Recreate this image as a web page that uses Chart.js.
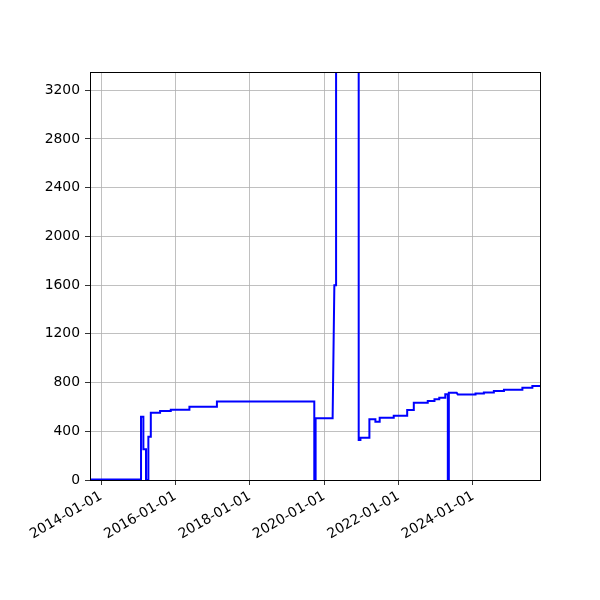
<!DOCTYPE html>
<html>
<head>
<meta charset="utf-8">
<script src="https://cdn.jsdelivr.net/npm/chart.js@4/dist/chart.umd.min.js"></script>
<style>
  html, body { margin: 0; padding: 0; background: #ffffff; }
  canvas { display: block; }
</style>
</head>
<body>
<canvas id="c" width="600" height="600"></canvas>
<script>
// ---- data ----
const dates = [
  '2013-09-15','2015-01-29','2015-01-29','2015-02-21','2015-02-21','2015-03-19',
  '2015-03-19','2015-04-11','2015-04-11','2015-05-05','2015-05-05','2015-08-04',
  '2015-08-04','2015-11-17','2015-11-17','2016-05-18','2016-05-18','2017-02-12',
  '2017-02-12','2019-09-26','2019-09-26','2019-10-09','2019-10-09','2020-03-24',
  '2020-04-10','2020-04-27','2020-04-27','2020-12-05','2020-12-05','2020-12-22',
  '2020-12-22','2021-03-20','2021-03-20','2021-05-18','2021-05-18','2021-06-29',
  '2021-06-29','2021-11-14','2021-11-14','2022-03-26','2022-03-26','2022-05-30',
  '2022-05-30','2022-10-14','2022-10-14','2022-12-19','2022-12-19','2023-02-04',
  '2023-02-04','2023-04-04','2023-04-04','2023-04-29','2023-04-29','2023-05-09',
  '2023-05-09','2023-07-25','2023-08-05','2024-01-26','2024-01-26','2024-04-17',
  '2024-04-17','2024-07-24','2024-07-24','2024-10-31','2024-10-31','2025-04-30',
  '2025-04-30','2025-08-06','2025-08-06','2025-10-20'
];
const values = [
  5,5,519,519,252,252,
  0,0,355,355,552,552,
  566,566,577,577,601,601,
  645,645,5,5,506,506,
  1600,1600,4000,4000,328,328,
  347,347,498,498,478,478,
  511,511,527,527,574,574,
  634,634,648,648,664,664,
  676,676,705,705,0,0,
  716,716,703,703,711,711,
  719,719,730,730,741,741,
  757,757,771,771
];
const xTickLabels = ['2014-01-01','2016-01-01','2018-01-01','2020-01-01','2022-01-01','2024-01-01'];
const yTickValues = [0, 400, 800, 1200, 1600, 2000, 2400, 2800, 3200];
const xMinDate = '2013-09-15';
const xMaxDate = '2025-10-20';
const yMin = 0;
const yMax = 3350;

const toMs = d => Date.parse(d + 'T00:00:00Z');
const points = dates.map((d, i) => ({ x: toMs(d), y: values[i] }));
const xTickValues = xTickLabels.map(toMs);

const frame = {
  id: 'frame',
  afterDatasetsDraw(chart) {
    const { ctx, chartArea: a } = chart;
    ctx.save();
    ctx.strokeStyle = '#000000';
    ctx.lineWidth = 1;
    const l = Math.round(a.left) + 0.5, t = Math.round(a.top) + 0.5;
    const r = Math.round(a.right) + 0.5, b = Math.round(a.bottom) + 0.5;
    ctx.strokeRect(l, t, r - l, b - t);
    ctx.restore();
  }
};

Chart.defaults.font.family = "'DejaVu Sans', sans-serif";
Chart.defaults.font.size = 13.9;
Chart.defaults.color = '#000000';

new Chart(document.getElementById('c'), {
  type: 'line',
  data: {
    datasets: [{
      data: points,
      borderColor: '#0000ff',
      borderWidth: 2,
      pointRadius: 0,
      tension: 0,
      fill: false,
      clip: 0
    }]
  },
  options: {
    responsive: false,
    animation: false,
    devicePixelRatio: 1,
    layout: { padding: { top: 72, right: 60, left: 0, bottom: 0 } },
    plugins: { legend: { display: false }, tooltip: { enabled: false } },
    scales: {
      x: {
        type: 'linear',
        min: toMs(xMinDate),
        max: toMs(xMaxDate),
        afterBuildTicks(scale) { scale.ticks = xTickValues.map(v => ({ value: v })); },
        afterFit(scale) { scale.height = 120; },
        grid: { color: '#b0b0b0', lineWidth: 0.8, tickColor: '#000000', tickLength: 5 },
        border: { display: true, color: '#000000', width: 1 },
        ticks: {
          autoSkip: false,
          minRotation: 30,
          maxRotation: 30,
          padding: 3,
          color: '#000000',
          callback: (v, i) => xTickLabels[i]
        }
      },
      y: {
        type: 'linear',
        min: yMin,
        max: yMax,
        afterBuildTicks(scale) { scale.ticks = yTickValues.map(v => ({ value: v })); },
        afterFit(scale) { scale.width = 90; },
        grid: { color: '#b0b0b0', lineWidth: 0.8, tickColor: '#000000', tickLength: 5 },
        border: { display: true, color: '#000000', width: 1 },
        ticks: { autoSkip: false, padding: 5, color: '#000000', callback: (v, i) => String(yTickValues[i]) }
      }
    }
  },
  plugins: [frame]
});
</script>
</body>
</html>
